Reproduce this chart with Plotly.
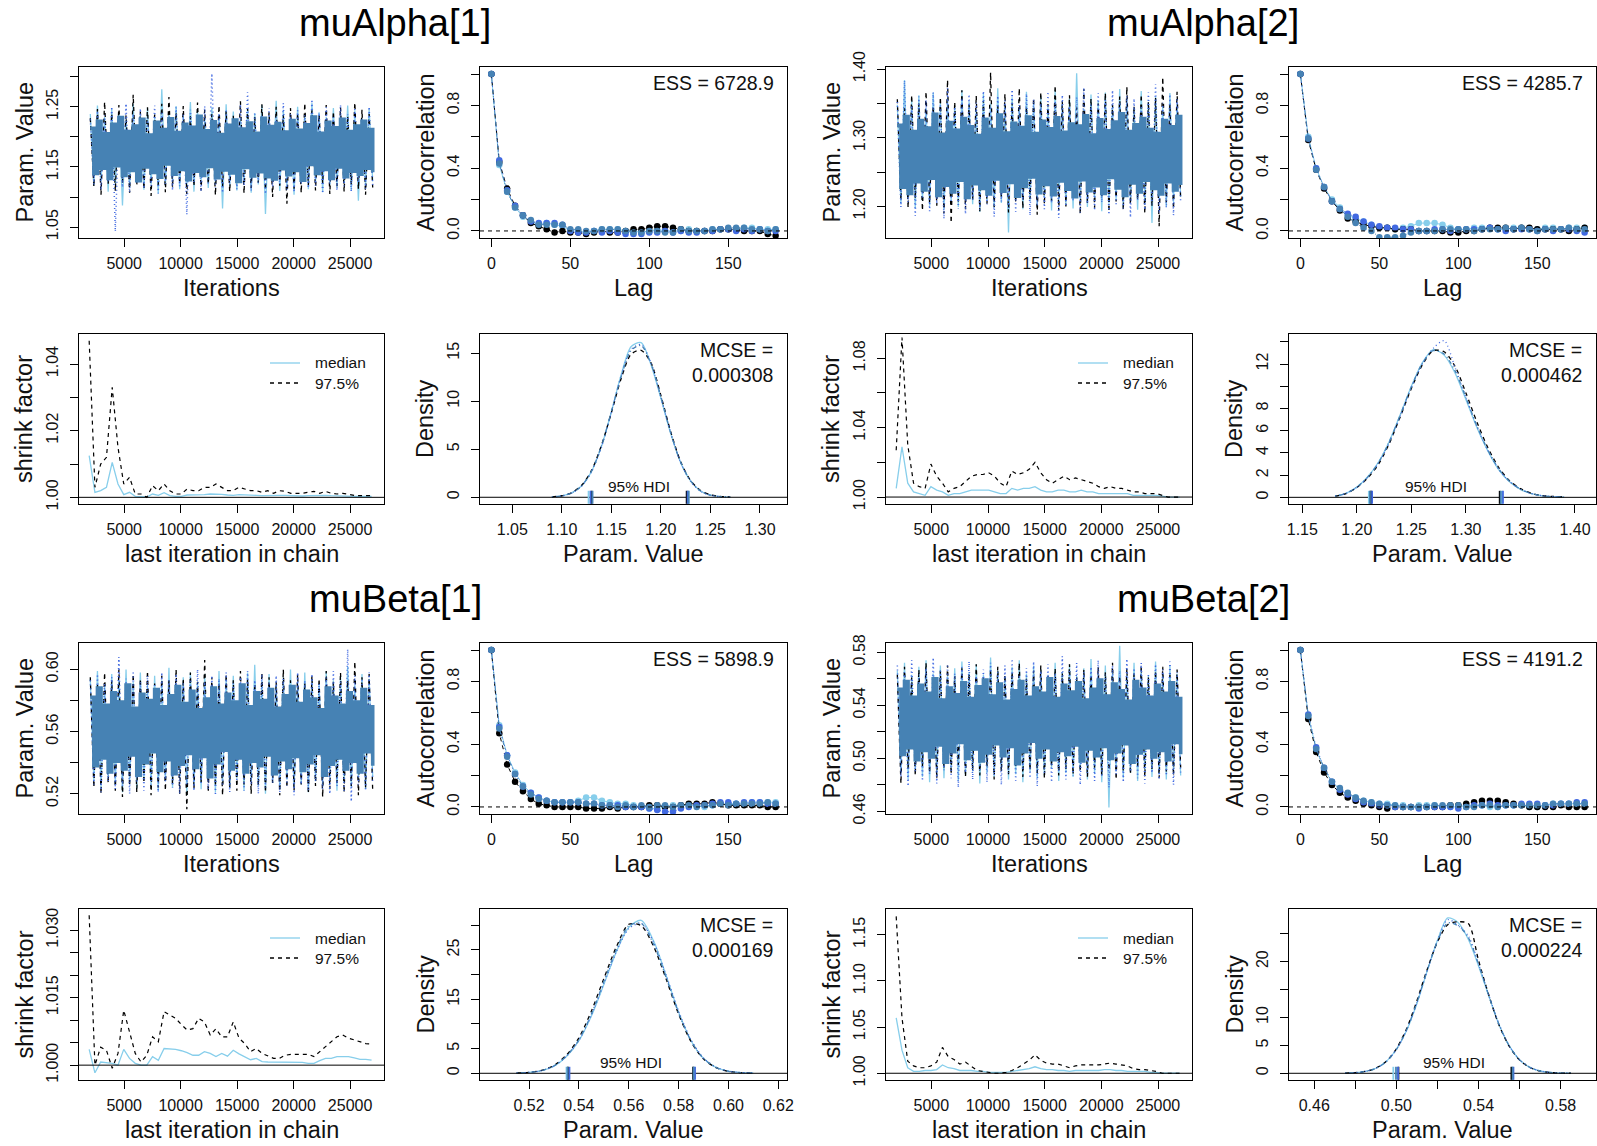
import numpy as np
import plotly.graph_objects as go

# ---------------------------------------------------------------- page setup
W, H = 1597, 1146
FONT = "Liberation Sans, Arial, Helvetica, sans-serif"
INK = "#111111"

CHAIN_COLORS = ["#87CEEB", "#000000", "#4169E1", "#4682B4"]   # skyblue, black, royalblue, steelblue
CHAIN_DASH = ["solid", "4px,4px", "1px,3px", "1px,3px,4px,3px"]

# panel boxes in pixels: column (left, right) and row (top, bottom)
COLS = [(79, 384), (480, 787), (886, 1192), (1289, 1596)]
ROWS = [(67, 238), (334, 504), (643, 814), (909, 1080)]

# ---------------------------------------------------------------- data
params = ["muAlpha[1]", "muAlpha[2]", "muBeta[1]", "muBeta[2]"]
ess_values = ["6728.9", "4285.7", "5898.9", "4191.2"]
mcse_values = ["0.000308", "0.000462", "0.000169", "0.000224"]

ITER_FIRST, ITER_LAST = 2000, 27000          # saved iterations shown in the trace plots
SHRINK_FIRST, SHRINK_LAST = 1900, 26900      # last iteration of each Gelman-Rubin bin
ACF_LAG_STEP = 5

# thinned chain samples (chains: skyblue, black, royalblue, steelblue)
trace_alpha1_c1 = [1.238,1.119,1.252,1.126,1.233,1.109,1.246,1.122,1.241,1.086,1.229,1.116,1.255,1.128,1.236,1.112,1.248,1.121,1.232,1.106,
                   1.279,1.118,1.240,1.125,1.251,1.113,1.235,1.120,1.258,1.109,1.243,1.127,1.231,1.115,1.249,1.123,1.237,1.081,1.254,1.118,
                   1.242,1.111,1.230,1.124,1.247,1.107,1.239,1.121,1.253,1.072,1.234,1.126,1.260,1.110,1.245,1.119,1.232,1.104,1.250,1.122,
                   1.238,1.113,1.256,1.125,1.241,1.108,1.233,1.120,1.248,1.116,1.236,1.123,1.252,1.111,1.244,1.094,1.231,1.118,1.247,1.126]
trace_alpha1_c2 = [1.231,1.117,1.246,1.104,1.258,1.121,1.239,1.110,1.253,1.124,1.236,1.107,1.270,1.119,1.242,1.113,1.249,1.102,1.237,1.120,
                   1.255,1.108,1.266,1.116,1.240,1.123,1.251,1.105,1.234,1.118,1.257,1.111,1.245,1.122,1.238,1.103,1.252,1.117,1.243,1.109,
                   1.235,1.121,1.259,1.106,1.247,1.115,1.233,1.124,1.254,1.112,1.241,1.100,1.250,1.119,1.236,1.089,1.248,1.114,1.239,1.107,
                   1.256,1.120,1.244,1.111,1.237,1.123,1.253,1.105,1.242,1.118,1.249,1.109,1.234,1.121,1.257,1.113,1.245,1.104,1.238,1.116]
trace_alpha1_c3 = [1.229,1.121,1.243,1.112,1.236,1.125,1.250,1.043,1.232,1.116,1.255,1.108,1.238,1.123,1.247,1.114,1.231,1.119,1.252,1.106,
                   1.240,1.122,1.234,1.111,1.249,1.118,1.237,1.071,1.245,1.124,1.233,1.109,1.251,1.120,1.305,1.115,1.239,1.107,1.246,1.122,
                   1.230,1.113,1.254,1.119,1.274,1.110,1.241,1.124,1.235,1.105,1.248,1.117,1.232,1.121,1.256,1.112,1.238,1.108,1.244,1.123,
                   1.236,1.115,1.262,1.119,1.240,1.106,1.249,1.122,1.233,1.111,1.253,1.118,1.237,1.109,1.246,1.124,1.231,1.114,1.250,1.120]
trace_alpha1_c4 = [1.214,1.139,1.226,1.148,1.205,1.131,1.221,1.152,1.232,1.136,1.209,1.144,1.218,1.127,1.229,1.150,1.203,1.141,1.224,1.133,
                   1.212,1.155,1.230,1.138,1.207,1.146,1.221,1.129,1.216,1.143,1.234,1.136,1.210,1.151,1.225,1.132,1.204,1.145,1.219,1.140,
                   1.228,1.126,1.213,1.149,1.223,1.135,1.206,1.142,1.231,1.134,1.217,1.130,1.222,1.147,1.208,1.137,1.227,1.144,1.211,1.128,
                   1.220,1.154,1.233,1.139,1.206,1.146,1.224,1.131,1.215,1.150,1.229,1.134,1.209,1.143,1.218,1.138,1.226,1.148,1.212,1.141]

trace_alpha2_c1 = [1.348,1.204,1.384,1.212,1.355,1.197,1.362,1.208,1.343,1.201,1.366,1.214,1.351,1.195,1.358,1.206,1.346,1.199,1.369,1.211,
                   1.353,1.203,1.341,1.192,1.364,1.209,1.350,1.198,1.372,1.205,1.347,1.162,1.359,1.210,1.344,1.196,1.367,1.207,1.352,1.200,
                   1.361,1.213,1.345,1.194,1.370,1.206,1.349,1.202,1.357,1.197,1.394,1.209,1.342,1.199,1.363,1.212,1.354,1.193,1.366,1.204,
                   1.348,1.210,1.371,1.198,1.356,1.207,1.343,1.195,1.368,1.203,1.352,1.176,1.360,1.211,1.346,1.200,1.365,1.206,1.350,1.214]
trace_alpha2_c2 = [1.356,1.209,1.343,1.198,1.362,1.212,1.350,1.194,1.367,1.205,1.346,1.201,1.359,1.190,1.384,1.176,1.352,1.207,1.369,1.196,
                   1.348,1.210,1.361,1.193,1.354,1.204,1.395,1.199,1.347,1.213,1.364,1.191,1.351,1.206,1.372,1.197,1.345,1.211,1.358,1.188,
                   1.366,1.203,1.349,1.208,1.376,1.194,1.353,1.200,1.362,1.212,1.344,1.189,1.371,1.205,1.357,1.198,1.350,1.214,1.365,1.192,
                   1.348,1.207,1.360,1.195,1.374,1.203,1.346,1.210,1.363,1.190,1.352,1.201,1.358,1.171,1.388,1.206,1.349,1.196,1.367,1.209]
trace_alpha2_c3 = [1.352,1.199,1.383,1.206,1.347,1.186,1.360,1.211,1.355,1.193,1.366,1.204,1.349,1.182,1.372,1.208,1.345,1.197,1.358,1.189,
                   1.363,1.210,1.351,1.195,1.368,1.203,1.346,1.185,1.361,1.207,1.354,1.198,1.370,1.192,1.348,1.209,1.364,1.187,1.356,1.202,
                   1.350,1.196,1.367,1.205,1.353,1.183,1.362,1.200,1.346,1.208,1.359,1.191,1.373,1.204,1.348,1.194,1.365,1.206,1.355,1.188,
                   1.369,1.201,1.352,1.197,1.361,1.184,1.357,1.209,1.347,1.195,1.366,1.203,1.378,1.190,1.351,1.198,1.363,1.187,1.356,1.205]
trace_alpha2_c4 = [1.318,1.228,1.331,1.219,1.309,1.236,1.325,1.224,1.314,1.241,1.334,1.216,1.305,1.231,1.322,1.221,1.311,1.238,1.328,1.213,
                   1.316,1.233,1.303,1.226,1.327,1.218,1.312,1.240,1.333,1.222,1.307,1.235,1.321,1.215,1.315,1.229,1.330,1.243,1.306,1.220,
                   1.324,1.232,1.313,1.217,1.329,1.237,1.308,1.225,1.320,1.214,1.317,1.239,1.332,1.223,1.304,1.230,1.326,1.219,1.310,1.242,
                   1.323,1.227,1.335,1.216,1.309,1.234,1.319,1.221,1.328,1.238,1.312,1.226,1.306,1.218,1.325,1.236,1.316,1.224,1.331,1.231]

trace_beta1_c1 = [0.594,0.528,0.599,0.524,0.591,0.530,0.597,0.526,0.593,0.521,0.600,0.527,0.592,0.523,0.598,0.529,0.590,0.525,0.596,0.522,
                  0.593,0.528,0.601,0.524,0.591,0.530,0.595,0.519,0.598,0.526,0.592,0.523,0.597,0.529,0.590,0.521,0.599,0.527,0.594,0.524,
                  0.596,0.530,0.591,0.522,0.598,0.528,0.603,0.525,0.593,0.520,0.597,0.527,0.590,0.523,0.595,0.529,0.600,0.524,0.592,0.526,
                  0.598,0.521,0.594,0.528,0.591,0.525,0.599,0.530,0.593,0.522,0.596,0.527,0.602,0.524,0.590,0.529,0.597,0.523,0.594,0.531]
trace_beta1_c2 = [0.595,0.524,0.591,0.520,0.598,0.527,0.593,0.522,0.600,0.518,0.592,0.525,0.597,0.521,0.594,0.527,0.599,0.519,0.591,0.524,
                  0.596,0.522,0.593,0.526,0.600,0.520,0.594,0.510,0.598,0.523,0.592,0.527,0.606,0.521,0.595,0.525,0.591,0.519,0.597,0.524,
                  0.593,0.522,0.599,0.526,0.594,0.520,0.591,0.525,0.598,0.521,0.595,0.527,0.592,0.519,0.600,0.524,0.593,0.522,0.597,0.526,
                  0.591,0.520,0.596,0.525,0.594,0.518,0.599,0.523,0.592,0.527,0.598,0.521,0.593,0.525,0.605,0.519,0.595,0.524,0.597,0.522]
trace_beta1_c3 = [0.593,0.526,0.597,0.521,0.591,0.528,0.595,0.523,0.608,0.525,0.594,0.520,0.599,0.527,0.592,0.522,0.596,0.526,0.590,0.521,
                  0.598,0.528,0.593,0.524,0.597,0.520,0.591,0.526,0.595,0.522,0.600,0.527,0.592,0.523,0.596,0.519,0.594,0.525,0.598,0.521,
                  0.591,0.528,0.595,0.522,0.599,0.526,0.593,0.520,0.597,0.524,0.592,0.527,0.596,0.521,0.594,0.525,0.590,0.519,0.598,0.526,
                  0.593,0.522,0.597,0.528,0.591,0.523,0.595,0.520,0.599,0.525,0.592,0.521,0.613,0.515,0.596,0.526,0.594,0.522,0.598,0.527]
trace_beta1_c4 = [0.582,0.538,0.588,0.543,0.577,0.534,0.585,0.541,0.579,0.536,0.590,0.545,0.575,0.532,0.584,0.540,0.580,0.547,0.587,0.535,
                  0.576,0.542,0.583,0.533,0.589,0.539,0.578,0.546,0.586,0.537,0.574,0.544,0.581,0.531,0.588,0.540,0.577,0.548,0.584,0.536,
                  0.579,0.543,0.590,0.534,0.576,0.541,0.585,0.538,0.580,0.545,0.587,0.533,0.575,0.542,0.583,0.537,0.589,0.544,0.578,0.535,
                  0.586,0.540,0.581,0.546,0.574,0.532,0.588,0.539,0.582,0.543,0.577,0.536,0.585,0.541,0.579,0.534,0.587,0.547,0.576,0.538]

trace_beta2_c1 = [0.566,0.489,0.572,0.484,0.563,0.491,0.569,0.486,0.574,0.482,0.564,0.488,0.570,0.485,0.562,0.492,0.568,0.483,0.573,0.487,
                  0.565,0.490,0.571,0.481,0.563,0.489,0.576,0.486,0.566,0.491,0.562,0.484,0.569,0.488,0.574,0.482,0.564,0.490,0.570,0.485,
                  0.567,0.487,0.563,0.492,0.572,0.483,0.565,0.489,0.571,0.486,0.562,0.491,0.568,0.484,0.575,0.488,0.564,0.482,0.570,0.463,
                  0.566,0.490,0.585,0.485,0.563,0.489,0.572,0.483,0.567,0.491,0.562,0.486,0.573,0.488,0.565,0.484,0.570,0.490,0.564,0.487]
trace_beta2_c2 = [0.563,0.481,0.569,0.492,0.561,0.487,0.567,0.494,0.572,0.489,0.560,0.485,0.566,0.493,0.570,0.488,0.562,0.495,0.568,0.486,
                  0.564,0.491,0.571,0.487,0.561,0.494,0.567,0.484,0.569,0.490,0.563,0.488,0.565,0.493,0.572,0.486,0.560,0.491,0.566,0.489,
                  0.570,0.485,0.562,0.494,0.568,0.487,0.564,0.492,0.571,0.488,0.561,0.490,0.567,0.486,0.563,0.493,0.569,0.487,0.565,0.491,
                  0.572,0.484,0.562,0.490,0.568,0.488,0.564,0.494,0.570,0.486,0.561,0.492,0.566,0.485,0.569,0.490,0.563,0.487,0.567,0.493]
trace_beta2_c3 = [0.570,0.486,0.565,0.479,0.574,0.490,0.563,0.483,0.568,0.488,0.576,0.481,0.566,0.491,0.571,0.485,0.564,0.478,0.569,0.489,
                  0.573,0.484,0.562,0.490,0.567,0.482,0.572,0.487,0.565,0.480,0.570,0.489,0.575,0.483,0.563,0.491,0.568,0.485,0.573,0.479,
                  0.566,0.488,0.571,0.482,0.564,0.490,0.577,0.484,0.567,0.487,0.572,0.480,0.565,0.489,0.569,0.483,0.574,0.486,0.563,0.478,
                  0.570,0.488,0.566,0.482,0.575,0.490,0.568,0.485,0.572,0.481,0.564,0.489,0.571,0.484,0.567,0.487,0.573,0.480,0.565,0.488]
trace_beta2_c4 = [0.552,0.503,0.558,0.508,0.546,0.499,0.555,0.506,0.549,0.501,0.560,0.510,0.544,0.497,0.553,0.505,0.548,0.512,0.557,0.500,
                  0.545,0.507,0.554,0.498,0.559,0.504,0.547,0.511,0.556,0.502,0.543,0.509,0.551,0.496,0.558,0.505,0.546,0.513,0.553,0.501,
                  0.549,0.508,0.560,0.499,0.545,0.506,0.555,0.503,0.550,0.510,0.557,0.498,0.544,0.507,0.552,0.502,0.559,0.509,0.547,0.500,
                  0.556,0.505,0.551,0.511,0.543,0.497,0.558,0.504,0.552,0.508,0.546,0.501,0.555,0.506,0.549,0.499,0.557,0.512,0.545,0.503]

# autocorrelation at lags 0, 5, 10, ..., 180
acf_alpha1_c1 = [1.00,0.42,0.25,0.15,0.09,0.06,0.04,0.05,0.04,0.03,0.00,0.00,-0.01,0.00,0.01,0.01,0.01,0.00,0.00,-0.01,0.00,0.01,0.00,0.00,0.00,0.01,0.00,0.00,0.01,0.01,0.01,0.01,0.02,0.02,0.01,0.01,0.01]
acf_alpha1_c2 = [1.00,0.44,0.27,0.16,0.10,0.05,0.03,0.01,-0.01,0.00,-0.01,-0.01,-0.02,-0.01,0.00,-0.01,-0.01,0.00,0.01,0.01,0.02,0.03,0.03,0.02,0.01,0.00,0.00,0.00,0.00,0.01,0.01,0.01,0.00,0.00,0.00,-0.02,-0.03]
acf_alpha1_c3 = [1.00,0.45,0.26,0.16,0.10,0.06,0.05,0.05,0.05,0.04,0.00,-0.01,-0.01,0.00,-0.01,0.00,-0.01,-0.02,-0.02,-0.02,-0.01,-0.01,0.00,-0.01,0.00,-0.01,-0.01,0.00,0.00,0.01,0.01,0.00,0.01,0.00,0.01,0.00,0.00]
acf_alpha1_c4 = [1.00,0.43,0.25,0.15,0.10,0.07,0.04,0.04,0.04,0.04,0.01,0.01,0.00,0.00,0.01,0.01,0.01,0.00,-0.01,-0.01,0.00,0.00,-0.01,-0.01,0.01,0.00,0.00,0.00,0.01,0.01,0.02,0.02,0.02,0.01,0.01,0.00,0.01]

acf_alpha2_c1 = [1.00,0.60,0.40,0.28,0.20,0.15,0.10,0.08,0.06,0.04,0.02,0.02,0.01,0.02,0.03,0.05,0.05,0.05,0.04,0.02,0.01,0.01,0.02,0.02,0.02,0.01,0.01,0.02,0.02,0.01,0.01,0.02,0.02,0.01,0.02,0.02,0.02]
acf_alpha2_c2 = [1.00,0.58,0.39,0.27,0.19,0.13,0.08,0.06,0.04,0.03,0.02,0.02,0.01,0.01,0.01,0.00,0.00,0.00,0.00,-0.01,-0.01,0.00,0.00,0.01,0.02,0.02,0.02,0.01,0.02,0.02,0.01,0.01,0.01,0.01,0.00,0.01,0.02]
acf_alpha2_c3 = [1.00,0.59,0.40,0.28,0.19,0.14,0.11,0.09,0.06,0.04,0.03,0.02,0.02,0.01,0.01,0.00,0.00,0.01,0.01,0.00,0.01,0.01,0.01,0.01,0.02,0.01,0.00,0.01,0.01,0.01,0.00,0.01,0.00,0.01,0.01,0.00,-0.01]
acf_alpha2_c4 = [1.00,0.59,0.39,0.28,0.19,0.14,0.09,0.05,0.02,0.00,-0.04,-0.04,-0.04,-0.03,-0.01,0.00,0.00,0.00,0.01,0.01,0.01,0.01,0.00,0.01,0.01,0.01,0.02,0.01,0.02,0.01,0.00,0.01,0.01,0.01,0.02,0.01,0.01]

acf_beta1_c1 = [1.00,0.52,0.33,0.22,0.14,0.09,0.06,0.04,0.03,0.03,0.03,0.04,0.06,0.06,0.04,0.03,0.02,0.02,0.01,0.00,-0.01,-0.01,0.00,0.01,0.01,0.01,0.01,0.00,0.01,0.02,0.02,0.02,0.02,0.03,0.03,0.03,0.03]
acf_beta1_c2 = [1.00,0.47,0.27,0.16,0.10,0.05,0.02,0.01,0.00,0.00,0.00,0.00,-0.01,-0.01,-0.01,0.00,-0.01,0.00,0.00,0.00,0.01,0.01,0.00,0.00,0.01,0.02,0.02,0.02,0.03,0.02,0.01,0.01,0.01,0.01,0.01,0.00,0.00]
acf_beta1_c3 = [1.00,0.51,0.33,0.21,0.13,0.09,0.06,0.04,0.03,0.03,0.03,0.03,0.02,0.02,0.01,0.01,0.01,0.00,0.00,0.00,-0.01,-0.02,-0.03,-0.03,-0.01,0.00,0.01,0.01,0.02,0.03,0.03,0.02,0.03,0.03,0.03,0.02,0.02]
acf_beta1_c4 = [1.00,0.50,0.32,0.21,0.13,0.08,0.05,0.04,0.03,0.03,0.03,0.03,0.02,0.02,0.01,0.01,0.00,0.01,0.00,0.01,0.00,0.01,0.01,0.00,0.01,0.01,0.00,0.01,0.01,0.02,0.01,0.02,0.02,0.02,0.02,0.03,0.02]

acf_beta2_c1 = [1.00,0.58,0.37,0.24,0.16,0.11,0.08,0.06,0.04,0.03,0.02,0.02,0.01,0.01,0.00,0.01,0.01,0.01,0.00,0.00,0.00,0.01,0.01,0.01,0.00,0.00,0.01,0.01,0.01,0.00,0.00,0.01,0.02,0.02,0.02,0.02,0.02]
acf_beta2_c2 = [1.00,0.56,0.35,0.22,0.14,0.09,0.06,0.04,0.02,0.01,0.00,-0.01,0.00,0.00,0.00,0.00,0.00,0.00,0.00,0.01,0.01,0.02,0.03,0.04,0.04,0.04,0.03,0.02,0.01,0.00,0.00,0.00,0.00,0.01,0.00,0.00,0.00]
acf_beta2_c3 = [1.00,0.59,0.38,0.25,0.16,0.11,0.08,0.05,0.03,0.02,0.01,0.01,0.00,0.00,0.00,-0.01,0.00,0.00,0.00,0.00,-0.01,0.00,0.01,0.01,0.02,0.01,0.01,0.01,0.02,0.02,0.02,0.01,0.01,0.02,0.02,0.03,0.03]
acf_beta2_c4 = [1.00,0.58,0.37,0.25,0.16,0.12,0.09,0.06,0.04,0.03,0.02,0.01,0.01,0.00,0.00,0.00,0.00,0.01,0.01,0.01,0.01,0.00,0.00,0.01,0.01,0.00,0.01,0.01,0.01,0.01,0.01,0.01,0.02,0.02,0.02,0.02,0.02]

# Gelman-Rubin shrink factor: median and 97.5% quantile per bin
shrink_alpha1_med = [1.0125,1.0015,1.002,1.003,1.0105,1.004,1.0008,1.0015,1.0003,1.0002,1.0001,1.001,1.0006,1.0014,1.0005,1.0003,1.0003,1.0007,1.0007,1.0006,
                     1.0008,1.001,1.001,1.0009,1.0007,1.0006,1.0008,1.0008,1.0007,1.0006,1.0005,1.0006,1.0005,1.0006,1.0006,1.0005,1.0005,1.0004,1.0005,1.0006,
                     1.0005,1.0006,1.0005,1.0004,1.0005,1.0004,1.0003,1.0003,1.0003,1.0003]
shrink_alpha1_975 = [1.047,1.003,1.010,1.012,1.033,1.015,1.004,1.006,1.001,1.001,1.000,1.0035,1.002,1.004,1.002,1.001,1.001,1.0025,1.002,1.002,
                     1.003,1.003,1.004,1.003,1.002,1.002,1.003,1.0025,1.002,1.002,1.0015,1.002,1.0012,1.002,1.0018,1.0012,1.0012,1.0012,1.0015,1.0018,
                     1.0012,1.0018,1.0012,1.001,1.0012,1.0008,1.0006,1.0005,1.0005,1.0005]
shrink_alpha2_med = [1.005,1.029,1.008,1.003,1.002,1.001,1.006,1.004,1.003,1.001,1.002,1.002,1.003,1.004,1.004,1.004,1.004,1.003,1.002,1.002,
                     1.005,1.004,1.005,1.005,1.006,1.004,1.003,1.003,1.004,1.004,1.003,1.003,1.004,1.003,1.003,1.002,1.002,1.002,1.002,1.002,
                     1.002,1.001,1.001,1.001,1.001,1.001,1.0005,1.000,1.000,1.000]
shrink_alpha2_975 = [1.027,1.092,1.030,1.008,1.006,1.005,1.019,1.012,1.008,1.003,1.005,1.006,1.009,1.012,1.013,1.013,1.014,1.012,1.008,1.006,
                     1.015,1.013,1.014,1.016,1.020,1.014,1.010,1.008,1.010,1.012,1.010,1.011,1.010,1.009,1.008,1.006,1.005,1.006,1.005,1.005,
                     1.004,1.003,1.003,1.002,1.002,1.002,1.001,1.000,1.000,1.000]
shrink_beta1_med = [1.0035,0.9983,1.0007,1.0005,1.0004,1.0000,1.0035,1.0015,1.0004,1.0000,1.0000,1.0019,1.0011,1.0037,1.0036,1.0035,1.0032,1.0028,1.0022,1.0022,
                    1.0030,1.0026,1.0019,1.0026,1.0020,1.0033,1.0025,1.0018,1.0012,1.0015,1.0008,1.0007,1.0007,1.0007,1.0007,1.0007,1.0006,1.0006,1.0004,1.0004,
                    1.0010,1.0015,1.0015,1.0019,1.0019,1.0019,1.0016,1.0013,1.0013,1.0011]
shrink_beta1_975 = [1.0333,1.0000,1.0040,1.0033,0.9993,1.0026,1.0122,1.0074,1.0026,1.0007,1.0022,1.0063,1.0052,1.0119,1.0111,1.0104,1.0090,1.0078,1.0081,1.0104,
                    1.0096,1.0067,1.0081,1.0063,1.0063,1.0096,1.0060,1.0048,1.0030,1.0037,1.0026,1.0020,1.0015,1.0015,1.0022,1.0024,1.0024,1.0024,1.0024,1.0019,
                    1.0030,1.0041,1.0052,1.0063,1.0067,1.0060,1.0056,1.0052,1.0048,1.0047]
shrink_beta2_med = [1.060,1.025,1.006,1.002,1.002,1.003,1.003,1.004,1.009,1.006,1.005,1.003,1.003,1.003,1.002,1.002,1.001,1.001,1.001,1.001,
                    1.002,1.003,1.004,1.005,1.007,1.005,1.004,1.004,1.003,1.003,1.002,1.003,1.003,1.003,1.003,1.003,1.004,1.004,1.003,1.003,
                    1.002,1.002,1.002,1.002,1.001,1.001,1.000,1.000,1.000,1.000]
shrink_beta2_975 = [1.170,1.060,1.013,1.008,1.006,1.006,1.008,1.012,1.028,1.018,1.015,1.010,1.012,1.007,1.003,1.002,1.001,1.000,1.000,1.001,
                    1.003,1.006,1.010,1.014,1.020,1.014,1.011,1.010,1.010,1.008,1.006,1.008,1.009,1.009,1.009,1.009,1.010,1.011,1.010,1.009,
                    1.008,1.005,1.004,1.004,1.003,1.002,1.000,1.000,1.000,1.000]

# posterior density per chain on an even grid of parameter values
dens_alpha1_range = (1.09, 1.27)
dens_alpha1_c1 = [0.05,0.15,0.45,1.2,2.7,5.3,8.9,12.8,15.7,16.1,13.8,10.3,6.6,3.6,1.7,0.65,0.22,0.07,0.02]
dens_alpha1_c2 = [0.05,0.16,0.48,1.25,2.8,5.4,8.8,12.4,14.9,15.3,14.0,10.6,6.8,3.7,1.75,0.7,0.25,0.09,0.03]
dens_alpha1_c3 = [0.04,0.14,0.44,1.15,2.65,5.2,8.8,12.7,15.4,15.9,14.0,10.4,6.7,3.6,1.65,0.63,0.21,0.06,0.02]
dens_alpha1_c4 = [0.04,0.14,0.45,1.2,2.75,5.35,8.9,12.6,15.3,15.8,13.9,10.5,6.65,3.65,1.7,0.66,0.22,0.07,0.02]

dens_alpha2_range = (1.18, 1.39)
dens_alpha2_c1 = [0.09,0.36,0.92,1.85,3.2,5.1,7.5,10.0,12.1,13.3,12.8,11.2,8.8,6.3,4.2,2.5,1.4,0.72,0.33,0.14,0.06,0.02]
dens_alpha2_c2 = [0.11,0.34,0.88,1.75,3.0,4.9,7.3,9.8,11.9,13.2,13.1,11.8,9.4,6.8,4.5,2.7,1.5,0.78,0.37,0.16,0.08,0.04]
dens_alpha2_c3 = [0.10,0.35,0.90,1.8,3.1,4.95,7.35,9.85,12.0,13.4,14.1,11.7,9.0,6.4,4.25,2.55,1.42,0.74,0.34,0.15,0.07,0.03]
dens_alpha2_c4 = [0.10,0.36,0.91,1.82,3.15,5.05,7.45,9.95,12.05,13.2,12.9,11.4,9.0,6.45,4.28,2.58,1.44,0.74,0.34,0.15,0.07,0.03]

dens_beta1_range = (0.515, 0.610)
dens_beta1_c1 = [0.05,0.17,0.52,1.45,3.4,6.6,11.6,18.0,24.6,29.6,31.0,26.8,19.8,12.4,6.6,3.0,1.2,0.42,0.14,0.05]
dens_beta1_c2 = [0.06,0.2,0.6,1.6,3.7,7.2,12.6,19.2,25.6,30.2,29.9,25.7,19.1,12.0,6.4,2.9,1.15,0.4,0.12,0.04]
dens_beta1_c3 = [0.05,0.18,0.54,1.48,3.45,6.7,11.8,18.2,24.6,29.3,30.4,26.5,19.9,12.6,6.8,3.1,1.25,0.44,0.14,0.05]
dens_beta1_c4 = [0.05,0.18,0.55,1.5,3.5,6.8,12.0,18.6,25.1,29.9,30.4,26.1,19.4,12.2,6.55,2.98,1.18,0.41,0.13,0.04]

dens_beta2_range = (0.475, 0.585)
dens_beta2_c1 = [0.03,0.11,0.34,0.9,2.1,4.3,7.7,12.5,18.3,23.8,27.8,27.0,24.0,19.2,13.8,8.7,4.9,2.4,1.06,0.41,0.14,0.04,0.01]
dens_beta2_c2 = [0.03,0.12,0.35,0.92,2.1,4.4,8.0,13.0,18.6,23.5,26.6,27.1,26.8,20.2,14.0,8.6,4.8,2.35,1.03,0.4,0.13,0.04,0.01]
dens_beta2_c3 = [0.03,0.11,0.33,0.88,2.05,4.25,7.75,12.6,18.3,23.7,27.5,26.5,24.6,19.6,14.0,8.8,4.9,2.42,1.07,0.42,0.14,0.04,0.01]
dens_beta2_c4 = [0.03,0.11,0.33,0.89,2.06,4.27,7.8,12.7,18.4,23.6,26.9,26.4,24.3,19.5,13.9,8.7,4.86,2.4,1.06,0.41,0.14,0.04,0.01]

# 95% HDI limits per chain
hdi_alpha1 = [(1.127, 1.228), (1.130, 1.226), (1.129, 1.227), (1.131, 1.228)]
hdi_alpha2 = [(1.211, 1.333), (1.213, 1.331), (1.214, 1.334), (1.212, 1.332)]
hdi_beta1 = [(0.5350, 0.5862), (0.5356, 0.5858), (0.5362, 0.5866), (0.5354, 0.5860)]
hdi_beta2 = [(0.4985, 0.5565), (0.5010, 0.5560), (0.5008, 0.5570), (0.4998, 0.5566)]

# axis ranges, tick positions and tick labels
iter_range = [1000, 28000]
iter_ticks = [5000, 10000, 15000, 20000, 25000]
iter_labels = ["5000", "10000", "15000", "20000", "25000"]
lag_range = [-7.2, 187.2]
lag_ticks = [0, 50, 100, 150]
lag_labels = ["0", "50", "100", "150"]
acf_range = [-0.045, 1.045]
acf_ticks = [0.0, 0.2, 0.4, 0.6, 0.8, 1.0]
acf_labels = ["0.0", "", "0.4", "", "0.8", ""]

trace_alpha1_y = ([1.032, 1.316], [1.05, 1.10, 1.15, 1.20, 1.25, 1.30], ["1.05", "", "1.15", "", "1.25", ""])
trace_alpha2_y = ([1.154, 1.403], [1.20, 1.25, 1.30, 1.35, 1.40], ["1.20", "", "1.30", "", "1.40"])
trace_beta1_y = ([0.507, 0.617], [0.52, 0.54, 0.56, 0.58, 0.60], ["0.52", "", "0.56", "", "0.60"])
trace_beta2_y = ([0.458, 0.587], [0.46, 0.48, 0.50, 0.52, 0.54, 0.56, 0.58], ["0.46", "", "0.50", "", "0.54", "", "0.58"])

shrink_alpha1_y = ([0.998, 1.049], [1.00, 1.01, 1.02, 1.03, 1.04], ["1.00", "", "1.02", "", "1.04"])
shrink_alpha2_y = ([0.996, 1.094], [1.00, 1.02, 1.04, 1.06, 1.08], ["1.00", "", "1.04", "", "1.08"])
shrink_beta1_y = ([0.9967, 1.0347], [1.000, 1.005, 1.010, 1.015, 1.020, 1.025, 1.030], ["1.000", "", "", "1.015", "", "", "1.030"])
shrink_beta2_y = ([0.9927, 1.178], [1.00, 1.05, 1.10, 1.15], ["1.00", "1.05", "1.10", "1.15"])

dens_alpha1_x = ([1.0174, 1.3273], [1.05, 1.10, 1.15, 1.20, 1.25, 1.30], ["1.05", "1.10", "1.15", "1.20", "1.25", "1.30"])
dens_alpha1_y = ([-0.70, 17.0], [0, 5, 10, 15], ["0", "5", "10", "15"])
dens_alpha2_x = ([1.1378, 1.4193], [1.15, 1.20, 1.25, 1.30, 1.35, 1.40], ["1.15", "1.20", "1.25", "1.30", "1.35", "1.40"])
dens_alpha2_y = ([-0.60, 14.7], [0, 2, 4, 6, 8, 10, 12, 14], ["0", "2", "4", "6", "8", "", "12", ""])
dens_beta1_x = ([0.5003, 0.6235], [0.52, 0.54, 0.56, 0.58, 0.60, 0.62], ["0.52", "0.54", "0.56", "0.58", "0.60", "0.62"])
dens_beta1_y = ([-1.36, 33.3], [0, 5, 10, 15, 20, 25, 30], ["0", "5", "", "15", "", "25", ""])
dens_beta2_x = ([0.4477, 0.5972], [0.46, 0.48, 0.50, 0.52, 0.54, 0.56, 0.58], ["0.46", "", "0.50", "", "0.54", "", "0.58"])
dens_beta2_y = ([-1.2, 29.4], [0, 5, 10, 15, 20, 25], ["0", "5", "10", "", "20", ""])

# ---------------------------------------------------------------- assembly
PARAM_DATA = [
    dict(trace=[trace_alpha1_c1, trace_alpha1_c2, trace_alpha1_c3, trace_alpha1_c4], trace_y=trace_alpha1_y,
         acf=[acf_alpha1_c1, acf_alpha1_c2, acf_alpha1_c3, acf_alpha1_c4],
         shrink=(shrink_alpha1_med, shrink_alpha1_975), shrink_y=shrink_alpha1_y,
         dens=[dens_alpha1_c1, dens_alpha1_c2, dens_alpha1_c3, dens_alpha1_c4], dens_grid=dens_alpha1_range,
         dens_x=dens_alpha1_x, dens_y=dens_alpha1_y, hdi=hdi_alpha1),
    dict(trace=[trace_alpha2_c1, trace_alpha2_c2, trace_alpha2_c3, trace_alpha2_c4], trace_y=trace_alpha2_y,
         acf=[acf_alpha2_c1, acf_alpha2_c2, acf_alpha2_c3, acf_alpha2_c4],
         shrink=(shrink_alpha2_med, shrink_alpha2_975), shrink_y=shrink_alpha2_y,
         dens=[dens_alpha2_c1, dens_alpha2_c2, dens_alpha2_c3, dens_alpha2_c4], dens_grid=dens_alpha2_range,
         dens_x=dens_alpha2_x, dens_y=dens_alpha2_y, hdi=hdi_alpha2),
    dict(trace=[trace_beta1_c1, trace_beta1_c2, trace_beta1_c3, trace_beta1_c4], trace_y=trace_beta1_y,
         acf=[acf_beta1_c1, acf_beta1_c2, acf_beta1_c3, acf_beta1_c4],
         shrink=(shrink_beta1_med, shrink_beta1_975), shrink_y=shrink_beta1_y,
         dens=[dens_beta1_c1, dens_beta1_c2, dens_beta1_c3, dens_beta1_c4], dens_grid=dens_beta1_range,
         dens_x=dens_beta1_x, dens_y=dens_beta1_y, hdi=hdi_beta1),
    dict(trace=[trace_beta2_c1, trace_beta2_c2, trace_beta2_c3, trace_beta2_c4], trace_y=trace_beta2_y,
         acf=[acf_beta2_c1, acf_beta2_c2, acf_beta2_c3, acf_beta2_c4],
         shrink=(shrink_beta2_med, shrink_beta2_975), shrink_y=shrink_beta2_y,
         dens=[dens_beta2_c1, dens_beta2_c2, dens_beta2_c3, dens_beta2_c4], dens_grid=dens_beta2_range,
         dens_x=dens_beta2_x, dens_y=dens_beta2_y, hdi=hdi_beta2),
]

fig = go.Figure()
layout = dict(width=W, height=H, margin=dict(l=0, r=0, t=0, b=0, autoexpand=False),
              paper_bgcolor="white", plot_bgcolor="white", showlegend=False,
              font=dict(family=FONT, color=INK))
annotations, shapes = [], []


def names(k):
    s = "" if k == 1 else str(k)
    return "x" + s, "y" + s, "xaxis" + s, "yaxis" + s


def axis(domain, rng, vals, texts, anchor, vertical):
    d = dict(domain=domain, range=rng, anchor=anchor, tickmode="array", tickvals=vals, ticktext=texts,
             showline=True, mirror=True, linecolor="black", linewidth=1,
             ticks="outside", ticklen=8, tickwidth=1, tickcolor="black",
             showgrid=False, zeroline=False, fixedrange=True, automargin=False,
             tickfont=dict(family=FONT, size=16, color=INK))
    if vertical:
        d.update(tickangle=-90, ticklabelstandoff=6)
    else:
        d.update(ticklabelstandoff=3)
    return d


def panel(k, col, row, xcfg, ycfg, xlabel, ylabel):
    x0, x1 = COLS[col]
    y0, y1 = ROWS[row]
    xa, ya, xk, yk = names(k)
    layout[xk] = axis([x0 / W, x1 / W], xcfg[0], xcfg[1], xcfg[2], ya, False)
    layout[yk] = axis([1 - y1 / H, 1 - y0 / H], ycfg[0], ycfg[1], ycfg[2], xa, True)
    annotations.append(dict(text=xlabel, x=(x0 + x1) / 2 / W, y=1 - (y1 + 50) / H, xref="paper", yref="paper",
                            showarrow=False, xanchor="center", yanchor="middle",
                            font=dict(family=FONT, size=23.5, color=INK)))
    annotations.append(dict(text=ylabel, x=(x0 - 55) / W, y=1 - (y0 + y1) / 2 / H, xref="paper", yref="paper",
                            showarrow=False, xanchor="center", yanchor="middle", textangle=-90,
                            font=dict(family=FONT, size=23.5, color=INK)))
    return xa, ya


def hline(xa, yval, dash):
    shapes.append(dict(type="line", xref=xa + " domain", yref=xa.replace("x", "y"), x0=0, x1=1, y0=yval, y1=yval,
                       line=dict(color="black", width=1, dash=dash)))


# the dense steelblue chain is drawn as vertical strokes so that its body reads as a solid band
TRACE_WIDTH = [1.3, 1.3, 1.5, 3.6]
TRACE_SHAPE = ["linear", "linear", "linear", "hv"]

k = 0
for p, name in enumerate(params):
    d = PARAM_DATA[p]
    r0 = 0 if p < 2 else 2
    c0 = 0 if p % 2 == 0 else 2

    # title over the pair of columns
    tx = (COLS[c0][0] + COLS[c0 + 1][1]) / 2 - 38
    ty = ROWS[r0][0] - 44
    annotations.append(dict(text=name, x=tx / W, y=1 - ty / H, xref="paper", yref="paper", showarrow=False,
                            xanchor="center", yanchor="middle", font=dict(family=FONT, size=38, color="#000")))

    # --- trace plot
    k += 1
    xa, ya = panel(k, c0, r0, (iter_range, iter_ticks, iter_labels), d["trace_y"], "Iterations", "Param. Value")
    for c in range(4):
        vals = d["trace"][c]
        fig.add_trace(go.Scatter(x=np.linspace(ITER_FIRST, ITER_LAST, len(vals)), y=vals, mode="lines",
                                 line=dict(color=CHAIN_COLORS[c], width=TRACE_WIDTH[c], shape=TRACE_SHAPE[c],
                                           dash="solid" if c == 3 else CHAIN_DASH[c], simplify=False),
                                 xaxis=xa, yaxis=ya, hoverinfo="skip"))

    # --- autocorrelation
    k += 1
    xa, ya = panel(k, c0 + 1, r0, (lag_range, lag_ticks, lag_labels), (acf_range, acf_ticks, acf_labels),
                   "Lag", "Autocorrelation")
    for c in range(4):
        vals = d["acf"][c]
        fig.add_trace(go.Scatter(x=np.arange(len(vals)) * ACF_LAG_STEP, y=vals, mode="lines+markers",
                                 line=dict(color=CHAIN_COLORS[c], width=1, dash=CHAIN_DASH[c]),
                                 marker=dict(color=CHAIN_COLORS[c], size=6.5),
                                 xaxis=xa, yaxis=ya, hoverinfo="skip", cliponaxis=True))
    hline(xa, 0, "4px,4px")
    x1 = COLS[c0 + 1][1]
    annotations.append(dict(text="ESS = " + ess_values[p], x=(x1 - 11) / W, y=1 - (ROWS[r0][0] + 16) / H,
                            xref="paper", yref="paper", showarrow=False, xanchor="right", yanchor="middle",
                            font=dict(family=FONT, size=19.5, color=INK)))

    # --- shrink factor
    k += 1
    xa, ya = panel(k, c0, r0 + 1, (iter_range, iter_ticks, iter_labels), d["shrink_y"],
                   "last iteration in chain", "shrink factor")
    med, q975 = d["shrink"]
    xs = np.linspace(SHRINK_FIRST, SHRINK_LAST, len(med))
    fig.add_trace(go.Scatter(x=xs, y=med, mode="lines", line=dict(color="#87CEEB", width=1.3),
                             xaxis=xa, yaxis=ya, hoverinfo="skip"))
    fig.add_trace(go.Scatter(x=xs, y=q975, mode="lines", line=dict(color="black", width=1.2, dash="4px,4px"),
                             xaxis=xa, yaxis=ya, hoverinfo="skip"))
    hline(xa, 1.0, "solid")
    bx1, by0 = COLS[c0][1], ROWS[r0 + 1][0]
    for j, (lbl, col, dash) in enumerate([("median", "#87CEEB", "solid"), ("97.5%", "black", "4px,4px")]):
        yy = by0 + 29 + 20 * j
        shapes.append(dict(type="line", xref="paper", yref="paper", x0=(bx1 - 114) / W, x1=(bx1 - 84) / W,
                           y0=1 - yy / H, y1=1 - yy / H, line=dict(color=col, width=1.3, dash=dash)))
        annotations.append(dict(text=lbl, x=(bx1 - 71) / W, y=1 - yy / H, xref="paper", yref="paper",
                                showarrow=False, xanchor="left", yanchor="middle",
                                font=dict(family=FONT, size=15.5, color=INK)))

    # --- density
    k += 1
    xa, ya = panel(k, c0 + 1, r0 + 1, d["dens_x"], d["dens_y"], "Param. Value", "Density")
    g0, g1 = d["dens_grid"]
    for c in range(4):
        vals = d["dens"][c]
        fig.add_trace(go.Scatter(x=np.linspace(g0, g1, len(vals)), y=vals, mode="lines",
                                 line=dict(color=CHAIN_COLORS[c], width=1.3, dash=CHAIN_DASH[c], shape="spline",
                                           smoothing=0.8),
                                 xaxis=xa, yaxis=ya, hoverinfo="skip"))
    hline(xa, 0, "solid")
    for c in range(4):
        for lim in d["hdi"][c]:
            shapes.append(dict(type="line", xref=xa, yref=ya, ysizemode="pixel", yanchor=0,
                               x0=lim, x1=lim, y0=-6.5, y1=6.5,
                               line=dict(color=CHAIN_COLORS[c], width=1.8)))
    mid = float(np.mean([np.mean(h) for h in d["hdi"]]))
    annotations.append(dict(text="95% HDI", x=mid, y=0, xref=xa, yref=ya, showarrow=False,
                            xanchor="center", yanchor="bottom", yshift=0,
                            font=dict(family=FONT, size=15.5, color=INK)))
    x1 = COLS[c0 + 1][1]
    by0 = ROWS[r0 + 1][0]
    for j, txt in enumerate(["MCSE =", mcse_values[p]]):
        annotations.append(dict(text=txt, x=(x1 - 12) / W, y=1 - (by0 + 16 + 25 * j) / H, xref="paper",
                                yref="paper", showarrow=False, xanchor="right", yanchor="middle",
                                font=dict(family=FONT, size=19.5, color=INK)))

layout["annotations"] = annotations
layout["shapes"] = shapes
fig.update_layout(**layout)
fig.write_html("out.html")
